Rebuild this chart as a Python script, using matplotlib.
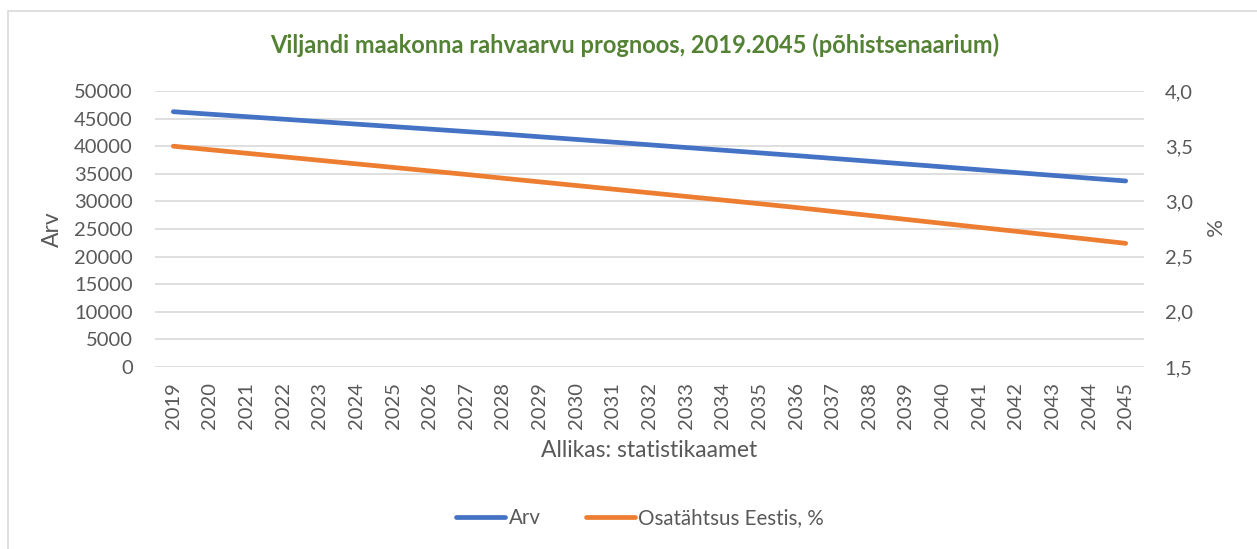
import matplotlib
matplotlib.use("Agg")
from matplotlib import pyplot as plt
from matplotlib.patches import Rectangle
from matplotlib.lines import Line2D
from matplotlib.ticker import FuncFormatter, MultipleLocator
import numpy as np

# andmed (loetud pildilt)
years = list(range(2019, 2046))
arv = [46250, 45800, 45350, 44900, 44450, 44000, 43550, 43100, 42650, 42200,
       41710, 41230, 40740, 40250, 39760, 39280, 38790, 38300,
       37790, 37280, 36770, 36260, 35740, 35230, 34720, 34210, 33700]
osatahtsus = [3.500, 3.468, 3.436, 3.404, 3.372, 3.340, 3.308, 3.276, 3.244, 3.210,
              3.177, 3.144, 3.111, 3.078, 3.045, 3.012, 2.979, 2.945,
              2.909, 2.873, 2.837, 2.801, 2.765, 2.729, 2.693, 2.657, 2.620]

title = "Viljandi maakonna rahvaarvu prognoos, 2019.2045 (põhistsenaarium)"
blue = "#4472C4"
orange = "#ED7D31"
txt = "#595959"
grid = "#d9d9d9"

plt.rcParams['font.family'] = ['Lato', 'DejaVu Sans']

W, H = 1257, 549
fig = plt.figure(figsize=(W / 100, H / 100), dpi=100)

# raam ümber diagrammi
fig.patches.append(Rectangle((8 / W, -0.1), 2, 1 - 11 / H + 0.1, transform=fig.transFigure,
                             fill=False, ec=grid, lw=1.2))

ax = fig.add_axes([155 / W, 1 - 367 / H, (1144 - 155) / W, 276 / H])
ax2 = ax.twinx()

x = np.arange(len(years))
ax.plot(x, arv, color=blue, lw=3.4, solid_capstyle='round', zorder=3)
ax2.plot(x, osatahtsus, color=orange, lw=3.4, solid_capstyle='round', zorder=3)

ax.set_xlim(-0.5, len(years) - 0.5)
ax.set_ylim(0, 50000)
ax.yaxis.set_major_locator(MultipleLocator(5000))
ax2.set_ylim(1.5, 4.0)
ax2.yaxis.set_major_locator(MultipleLocator(0.5))
ax2.yaxis.set_major_formatter(FuncFormatter(lambda v, p: f"{v:.1f}".replace('.', ',')))

ax.set_xticks(x)
ax.set_xticklabels([str(y) for y in years], rotation=90)
ax.grid(axis='y', color=grid, lw=1.2)
ax.set_axisbelow(True)

for a in (ax, ax2):
    for s in a.spines.values():
        s.set_visible(False)
    a.tick_params(length=0, labelsize=14.5, colors=txt)
ax.tick_params(axis='y', pad=16)
ax.tick_params(axis='x', pad=11)
ax2.tick_params(axis='y', pad=15)

ax.set_ylabel("Arv", fontsize=16.5, color=txt, labelpad=8)
ax2.set_ylabel("%", fontsize=16, color=txt, rotation=270, labelpad=20)
ax.set_xlabel("Allikas: statistikaamet", fontsize=16.5, color=txt, labelpad=8)

fig.text(635 / W, 1 - 45 / H, title, ha='center', va='center', fontsize=17,
         fontweight='bold', color="#548235")

handles = [Line2D([], [], color=blue, lw=3.4, solid_capstyle='round'),
           Line2D([], [], color=orange, lw=3.4, solid_capstyle='round')]
fig.legend(handles, ["Arv", "Osatähtsus Eestis, %"], loc='center',
           bbox_to_anchor=(640 / W, 1 - 518 / H), ncol=2, frameon=False,
           fontsize=14.8, labelcolor=txt, handlelength=2.4, handletextpad=0.15,
           columnspacing=2.2)

fig.savefig("out.png", dpi=100)
